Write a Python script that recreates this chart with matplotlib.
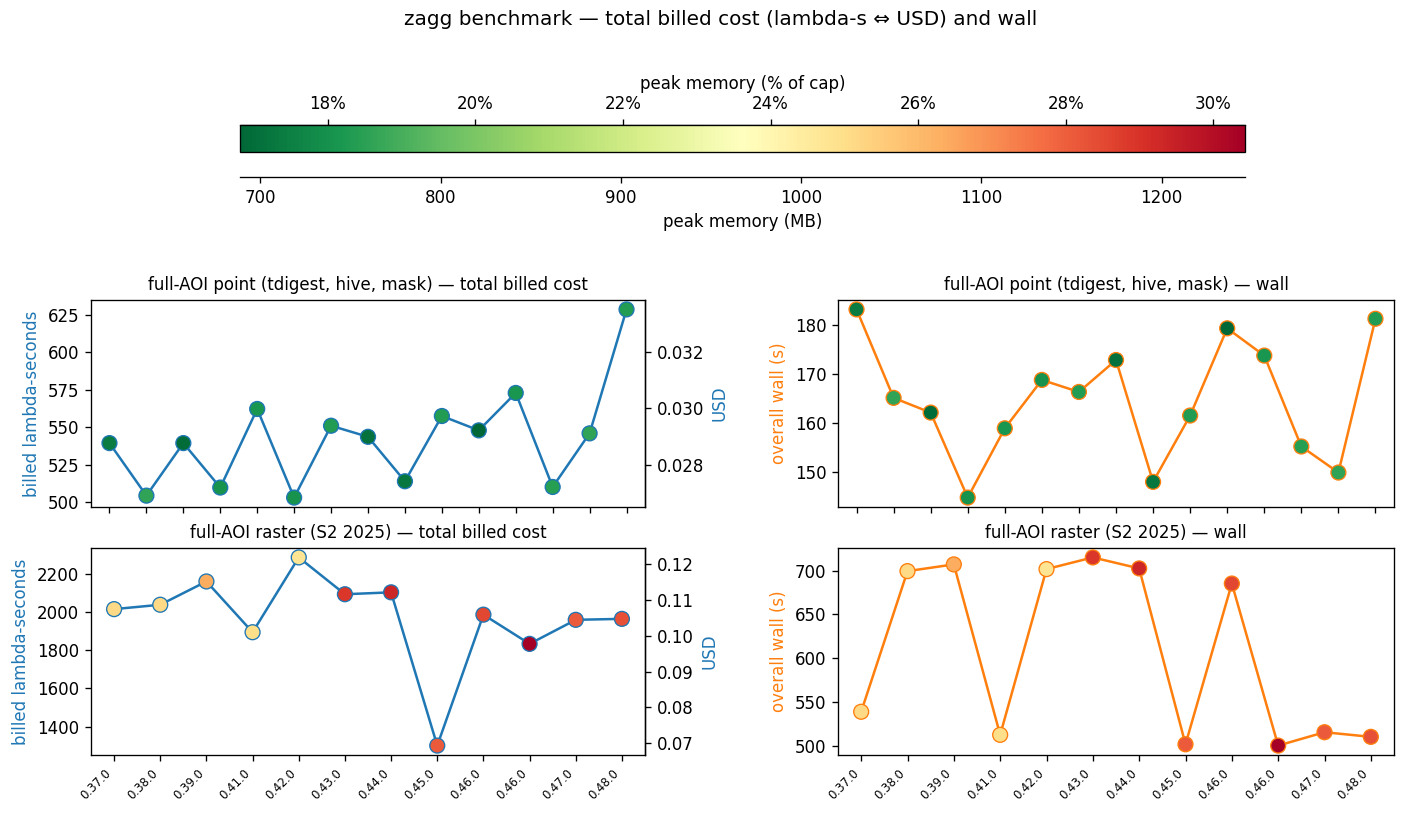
import numpy as np
import matplotlib
matplotlib.use("Agg")
import matplotlib.pyplot as plt
from matplotlib.colors import Normalize
from matplotlib.ticker import PercentFormatter

CAP_MB = 4096
USD_PER_LS = 4 * 0.0000133334  # arm, 4 GB

# full-AOI point runs (version labels not shown on this row)
point_mem = [711, 761, 694, 739, 744, 739, 750, 700, 708, 750, 688.7, 744, 756, 761, 750]
point_cost = [539.3, 504.2, 539.3, 509.6, 562.1, 502.9, 550.9, 543.5, 513.8, 557.4,
              547.8, 572.8, 510.0, 545.8, 628.6]
point_wall = [183.1, 165.1, 162.1, 144.8, 158.9, 168.75, 166.3, 172.8, 148.0, 161.5,
              179.25, 173.7, 155.2, 149.9, 181.2]

# full-AOI raster runs
raster_versions = ["0.37.0", "0.38.0", "0.39.0", "0.41.0", "0.42.0", "0.43.0",
                   "0.44.0", "0.45.0", "0.46.0", "0.46.0", "0.47.0", "0.48.0"]
raster_mem = [1029, 1029, 1079, 1023, 1015, 1185, 1202, 1151, 1168, 1246.3, 1151, 1160]
raster_cost = [2015, 2038, 2160, 1894, 2286, 2093, 2103, 1300, 1986, 1833, 1959, 1964]
raster_wall = [538.7, 699.6, 707.3, 512.3, 701.9, 715.3, 702.7, 501.5, 685.4, 500.0,
               515.3, 510.0]

cmap = plt.get_cmap("RdYlGn_r")
all_mem = point_mem + raster_mem
norm = Normalize(vmin=min(all_mem), vmax=max(all_mem))

fig = plt.figure(figsize=(1405 / 120, 814 / 120), dpi=120)
fig.suptitle("zagg benchmark — total billed cost (lambda-s ⇔ USD) and wall",
             fontsize=12, x=0.513, y=0.988)

W, H = 1405, 814


def px_axes(left, top, right, bottom):
    return fig.add_axes([left / W, 1 - bottom / H, (right - left) / W, (bottom - top) / H])


ax_pc = px_axes(91, 300, 645, 507)
ax_pw = px_axes(838, 300, 1394, 507)
ax_rc = px_axes(91, 548, 645, 755)
ax_rw = px_axes(838, 548, 1394, 755)
cax = px_axes(240, 125, 1245, 152)


def draw_series(ax, yv, mem, color, title, ylabel):
    x = np.arange(len(yv))
    ax.plot(x, yv, color=color, linewidth=1.5, zorder=2)
    ax.scatter(x, yv, c=mem, cmap=cmap, norm=norm, s=80, edgecolors=color,
               linewidths=0.8, zorder=3)
    ax.set_xlim(-0.5, len(yv) - 0.5)
    ax.set_xticks(x)
    ax.set_title(title, fontsize=10)
    ax.set_ylabel(ylabel, color=color)


def add_usd(ax):
    sec = ax.secondary_yaxis("right", functions=(lambda v: v * USD_PER_LS,
                                                 lambda v: v / USD_PER_LS))
    sec.set_ylabel("USD", color="C0")


draw_series(ax_pc, point_cost, point_mem, "C0",
            "full-AOI point (tdigest, hive, mask) — total billed cost", "billed lambda-seconds")
add_usd(ax_pc)
draw_series(ax_pw, point_wall, point_mem, "C1",
            "full-AOI point (tdigest, hive, mask) — wall", "overall wall (s)")
draw_series(ax_rc, raster_cost, raster_mem, "C0",
            "full-AOI raster (S2 2025) — total billed cost", "billed lambda-seconds")
add_usd(ax_rc)
draw_series(ax_rw, raster_wall, raster_mem, "C1",
            "full-AOI raster (S2 2025) — wall", "overall wall (s)")

for ax in (ax_pc, ax_pw):
    ax.tick_params(axis="x", labelbottom=False)
for ax in (ax_rc, ax_rw):
    ax.set_xticklabels(raster_versions, rotation=45, ha="right", fontsize=7)

# colour bar: % of cap on top, MB on an offset axis below
sm = plt.cm.ScalarMappable(norm=norm, cmap=cmap)
cb = fig.colorbar(sm, cax=cax, orientation="horizontal")
cb.ax.xaxis.set_ticks([])
top = cax.secondary_xaxis("top", functions=(lambda v: v / CAP_MB * 100,
                                            lambda p: p * CAP_MB / 100))
top.xaxis.set_major_formatter(PercentFormatter(decimals=0))
top.set_xlabel("peak memory (% of cap)")
bot = cax.secondary_xaxis(-0.93)
bot.set_xlabel("peak memory (MB)")

fig.savefig("out.png", dpi=120)
